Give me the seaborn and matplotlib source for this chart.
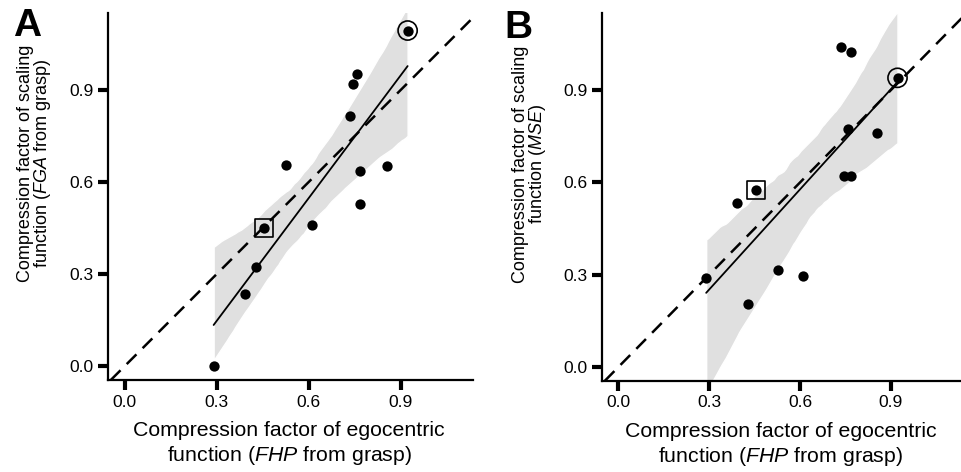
import numpy as np
import matplotlib
matplotlib.use("Agg")
import matplotlib.pyplot as plt
import seaborn as sns

# ── Data ──────────────────────────────────────────────────────
fhp = [0.290, 0.393, 0.427, 0.454, 0.527, 0.609, 0.735,
       0.745, 0.757, 0.767, 0.767, 0.855, 0.922]
fga = [0.000, 0.236, 0.323, 0.450, 0.654, 0.461, 0.816,
       0.919, 0.952, 0.529, 0.634, 0.651, 1.093]
mse = [0.289, 0.533, 0.204, 0.575, 0.315, 0.297, 1.039,
       0.622, 0.774, 1.024, 0.621, 0.760, 0.940]
square_idx = 3
circle_idx = 12

ticks = [0.0, 0.3, 0.6, 0.9]
xlab = "Compression factor of egocentric\nfunction ($\\mathit{FHP}$ from grasp)"
ylab_a = "Compression factor of scaling\nfunction ($\\mathit{FGA}$ from grasp)"
ylab_b = "Compression factor of scaling\nfunction ($\\mathit{MSE}$)"

# ── Style ─────────────────────────────────────────────────────
sns.set_theme(style="ticks")
plt.rcParams["font.family"] = ["Liberation Sans", "DejaVu Sans"]
plt.rcParams["mathtext.fontset"] = "custom"
plt.rcParams["mathtext.it"] = "Liberation Sans:italic"
plt.rcParams["mathtext.rm"] = "Liberation Sans"
plt.rcParams["axes.linewidth"] = 1.6
plt.rcParams["axes.edgecolor"] = "black"
for key in ("text.color", "axes.labelcolor", "xtick.color", "ytick.color"):
    plt.rcParams[key] = "black"

fig = plt.figure(figsize=(9.62, 4.72), dpi=100)
ax_a = fig.add_axes([0.1123, 0.1949, 0.3794, 0.7775])
ax_b = fig.add_axes([0.6258, 0.1930, 0.3742, 0.7790])


def panel(ax, y, ylabel):
    sns.regplot(x=fhp, y=y, ax=ax, color="black", ci=98, seed=7,
                scatter=False, line_kws=dict(lw=1.3, zorder=3))
    for coll in ax.collections:
        coll.set_facecolor("#e0e0e0")
        coll.set_alpha(1)
        coll.set_zorder(1)
    ax.axline((0, 0), slope=1, color="black", lw=1.8,
              dashes=(5.5, 3.5), zorder=2)
    sns.scatterplot(x=fhp, y=y, ax=ax, color="black", s=55,
                    linewidth=0, zorder=4)
    sns.scatterplot(x=[fhp[circle_idx]], y=[y[circle_idx]], ax=ax,
                    marker="o", s=190, facecolor="none",
                    edgecolor="black", linewidth=1.2, zorder=5)
    sns.scatterplot(x=[fhp[square_idx]], y=[y[square_idx]], ax=ax,
                    marker="s", s=170, facecolor="none",
                    edgecolor="black", linewidth=1.2, zorder=5)

    ax.set_xlim(-0.054, 1.135)
    ax.set_ylim(-0.045, 1.150)
    ax.set_xticks(ticks)
    ax.set_yticks(ticks)
    ax.set_xticklabels([f"{t:.1f}" for t in ticks])
    ax.set_yticklabels([f"{t:.1f}" for t in ticks])
    ax.tick_params(length=7.5, width=3, pad=3, labelsize=12.5)
    sns.despine(ax=ax)
    ax.set_xlabel(xlab, fontsize=15.3, linespacing=1.25)
    ax.set_ylabel(ylabel, fontsize=13.0, linespacing=0.9)
    ax.xaxis.set_label_coords(0.496, -0.112)
    ax.yaxis.set_label_coords(-0.15, 0.59)


panel(ax_a, fga, ylab_a)
panel(ax_b, mse, ylab_b)

fig.text(0.014, 0.982, "A", fontsize=28, fontweight="bold", va="top")
fig.text(0.524, 0.978, "B", fontsize=28, fontweight="bold", va="top")

fig.savefig("out.png", dpi=100, facecolor="white")
